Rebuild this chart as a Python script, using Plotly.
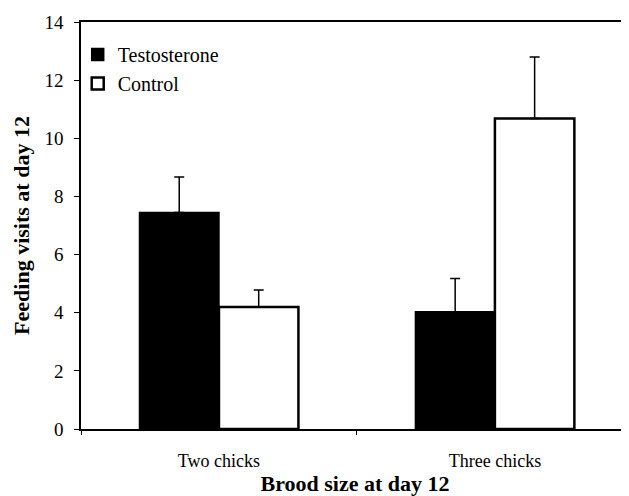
import plotly.graph_objects as go

categories = ["Two chicks", "Three chicks"]
testosterone = [7.45, 4.03]
testosterone_se = [1.22, 1.15]
control = [4.2, 10.68]
control_se = [0.58, 2.12]
y_ticks = [0, 2, 4, 6, 8, 10, 12, 14]

serif = "Liberation Serif"

fig = go.Figure()
fig.add_trace(go.Bar(
    name="Testosterone", x=categories, y=testosterone, legendgroup="t",
    marker=dict(color="black", line=dict(color="black", width=1.5)),
    error_y=dict(type="data", array=testosterone_se, arrayminus=[0, 0],
                 symmetric=False, color="black", thickness=1.5, width=5),
))
fig.add_trace(go.Bar(
    name="Control", x=categories, y=control, legendgroup="c",
    marker=dict(color="white", line=dict(color="black", width=2.5)),
    error_y=dict(type="data", array=control_se, arrayminus=[0, 0],
                 symmetric=False, color="black", thickness=1.5, width=5),
))

# page body has an 8px margin, so the figure is 8px smaller than the window
fig.update_layout(
    width=621, height=488,
    margin=dict(l=73, r=0, t=14, b=67, autoexpand=False),
    paper_bgcolor="white", plot_bgcolor="white",
    barmode="group", bargap=0.424, bargroupgap=0,
    font=dict(family=serif, color="black", size=18),
    legend=dict(x=-0.006, y=0.968, xanchor="left", yanchor="top",
                font=dict(family=serif, size=20, color="black"),
                bgcolor="rgba(0,0,0,0)", tracegroupgap=0, itemwidth=30),
    xaxis=dict(range=[-0.5, 1.486], showline=True, linecolor="black", linewidth=1.5,
               mirror=True, ticks="outside", ticklen=4, tickcolor="black",
               tickson="boundaries", showgrid=False, zeroline=False,
               ticklabelstandoff=15, automargin=False,
               tickfont=dict(family=serif, size=18),
               title=dict(text="<b>Brood size at day 12</b>", standoff=9,
                          font=dict(family=serif, size=22))),
    yaxis=dict(range=[0, 14], tickvals=y_ticks, showline=True, linecolor="black",
               linewidth=1.5, ticks="outside", ticklen=5, tickcolor="black",
               showgrid=False, zeroline=False, ticklabelstandoff=7, automargin=False,
               tickfont=dict(family=serif, size=19),
               title=dict(text="<b>Feeding visits at day 12</b>", standoff=9,
                          font=dict(family=serif, size=22))),
)

fig.write_html("out.html")
